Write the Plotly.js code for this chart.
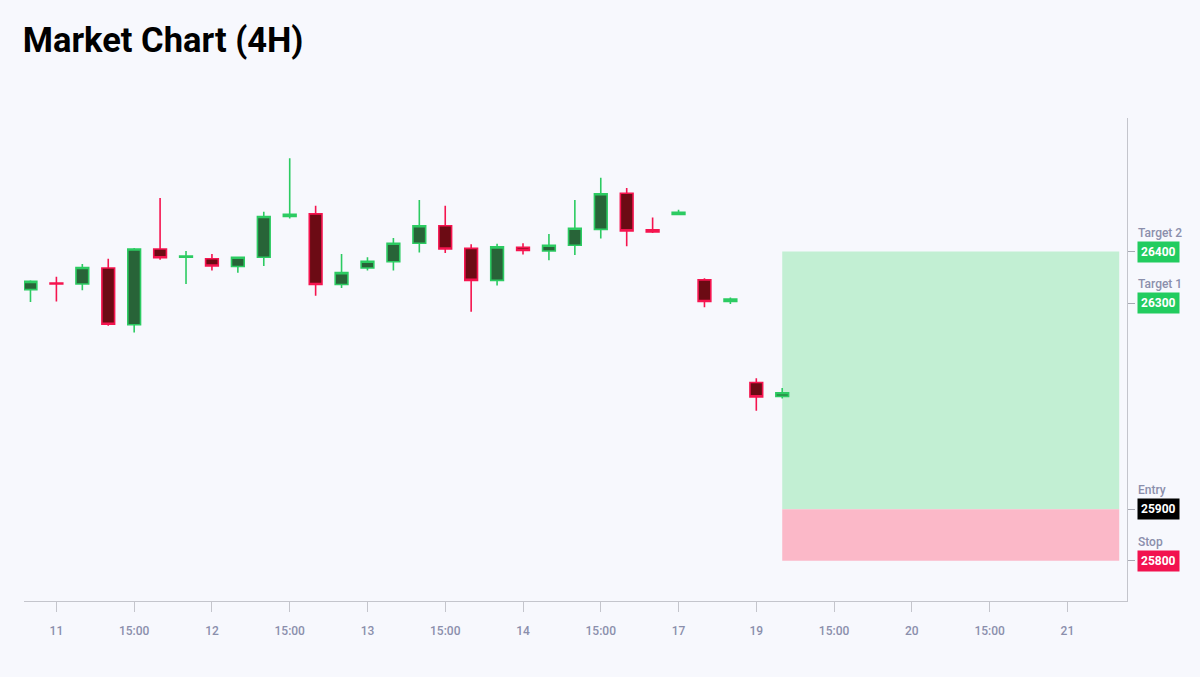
<!DOCTYPE html>
<html>
<head>
<meta charset="utf-8">
<script src="https://cdn.plot.ly/plotly-3.0.1.min.js"></script>
<style>
  html, body { margin: 0; padding: 0; background: #f7f8fd; }
  #chart { width: 1200px; height: 677px; }
</style>
</head>
<body>
<div id="chart"></div>
<script>
// ---- data ----
const opens  = [26326, 26339, 26337, 26368, 26258, 26405, 26389, 26386, 26371, 26389, 26468, 26473, 26336, 26368, 26380, 26416, 26450, 26406, 26344, 26408, 26401, 26412, 26443, 26513, 26442, 26472, 26345, 26303, 26146, 26119];
const highs  = [26344, 26351, 26376, 26386, 26407, 26504, 26401, 26395, 26390, 26477, 26581, 26489, 26395, 26389, 26426, 26500, 26489, 26414, 26415, 26416, 26434, 26500, 26543, 26523, 26466, 26481, 26348, 26311, 26154, 26135];
const lows   = [26302, 26303, 26325, 26256, 26243, 26384, 26337, 26363, 26359, 26372, 26464, 26314, 26329, 26363, 26363, 26398, 26397, 26283, 26334, 26394, 26383, 26393, 26425, 26410, 26436, 26471, 26292, 26298, 26091, 26115];
const closes = [26342, 26337, 26369, 26259, 26405, 26388, 26391, 26372, 26389, 26468, 26472, 26336, 26359, 26381, 26416, 26450, 26405, 26344, 26409, 26402, 26412, 26445, 26512, 26440, 26438, 26476, 26303, 26308, 26118, 26126];

const tickLabels = ['11', '15:00', '12', '15:00', '13', '15:00', '14', '15:00', '17', '19', '15:00', '20', '15:00', '21'];
const candlesPerTick = 3;
const firstTickCandle = 1;
const projectionEnd = 42;   // candle slot where the trade zone ends

const levelNames  = ['Target 2', 'Target 1', 'Entry', 'Stop'];
const levelValues = [26400, 26300, 25900, 25800];
const levelColors = ['#22cc5f', '#22cc5f', '#000000', '#f2124f'];

// ---- build ----
const xIdx = opens.map((_, i) => i);
const tickVals = tickLabels.map((_, k) => firstTickCandle + k * candlesPerTick);
const lastIdx = xIdx[xIdx.length - 1];

const target2 = levelValues[0], entry = levelValues[2], stop = levelValues[3];

const trace = {
  type: 'candlestick',
  x: xIdx, open: opens, high: highs, low: lows, close: closes,
  increasing: { line: { color: '#2ccb62', width: 1.6 }, fillcolor: '#286438' },
  decreasing: { line: { color: '#f5144f', width: 1.6 }, fillcolor: '#6c0b14' },
  hoverinfo: 'none',
  showlegend: false
};

const annotations = [];
levelValues.forEach((v, i) => {
  annotations.push({
    xref: 'paper', yref: 'y', x: 1, y: v, xanchor: 'left', yanchor: 'middle',
    xshift: 9, yshift: 19,
    text: levelNames[i], showarrow: false,
    font: { family: 'Roboto, sans-serif', size: 12, color: '#8b8fac', weight: 500 }
  });
  annotations.push({
    xref: 'paper', yref: 'y', x: 1, y: v, xanchor: 'left', yanchor: 'middle',
    xshift: 10,
    text: '<b>' + v + '</b>', showarrow: false,
    bgcolor: levelColors[i], borderpad: 3,
    font: { family: 'Roboto, sans-serif', size: 12, color: '#ffffff' }
  });
});

const layout = {
  width: 1200, height: 677,
  paper_bgcolor: '#f7f8fd', plot_bgcolor: '#f7f8fd',
  margin: { l: 24, r: 73, t: 118, b: 76 },
  title: {
    text: '<b>Market Chart (4H)</b>',
    xref: 'container', yref: 'container', x: 0.019, xanchor: 'left', y: 0.941, yanchor: 'middle',
    font: { family: 'Roboto, sans-serif', size: 34.5, color: '#000000' }
  },
  xaxis: {
    type: 'linear', range: [-0.25, 42.3],
    tickvals: tickVals, ticktext: tickLabels,
    showgrid: false, zeroline: false,
    showline: true, linecolor: '#c4c5cc', linewidth: 1,
    ticks: 'outside', ticklen: 10, tickcolor: '#c4c5cc', tickwidth: 1,
    ticklabelstandoff: 9,
    tickfont: { family: 'Roboto, sans-serif', size: 12, color: '#8b8fac', weight: 500 },
    rangeslider: { visible: false },
    fixedrange: true
  },
  yaxis: {
    side: 'right', range: [25722, 26659],
    tickvals: levelValues, showticklabels: false,
    showgrid: false, zeroline: false,
    showline: true, linecolor: '#c4c5cc', linewidth: 1,
    ticks: 'outside', ticklen: 7, tickcolor: '#a8aab4', tickwidth: 1,
    fixedrange: true
  },
  shapes: [
    { type: 'rect', xref: 'x', yref: 'y', x0: lastIdx, x1: projectionEnd, y0: entry, y1: target2,
      fillcolor: '#c2efd3', line: { width: 0 }, layer: 'below' },
    { type: 'rect', xref: 'x', yref: 'y', x0: lastIdx, x1: projectionEnd, y0: stop, y1: entry,
      fillcolor: '#fbb8c8', line: { width: 0 }, layer: 'below' }
  ],
  annotations: annotations,
  showlegend: false
};

Plotly.newPlot('chart', [trace], layout, { displayModeBar: false, staticPlot: true });
</script>
</body>
</html>
